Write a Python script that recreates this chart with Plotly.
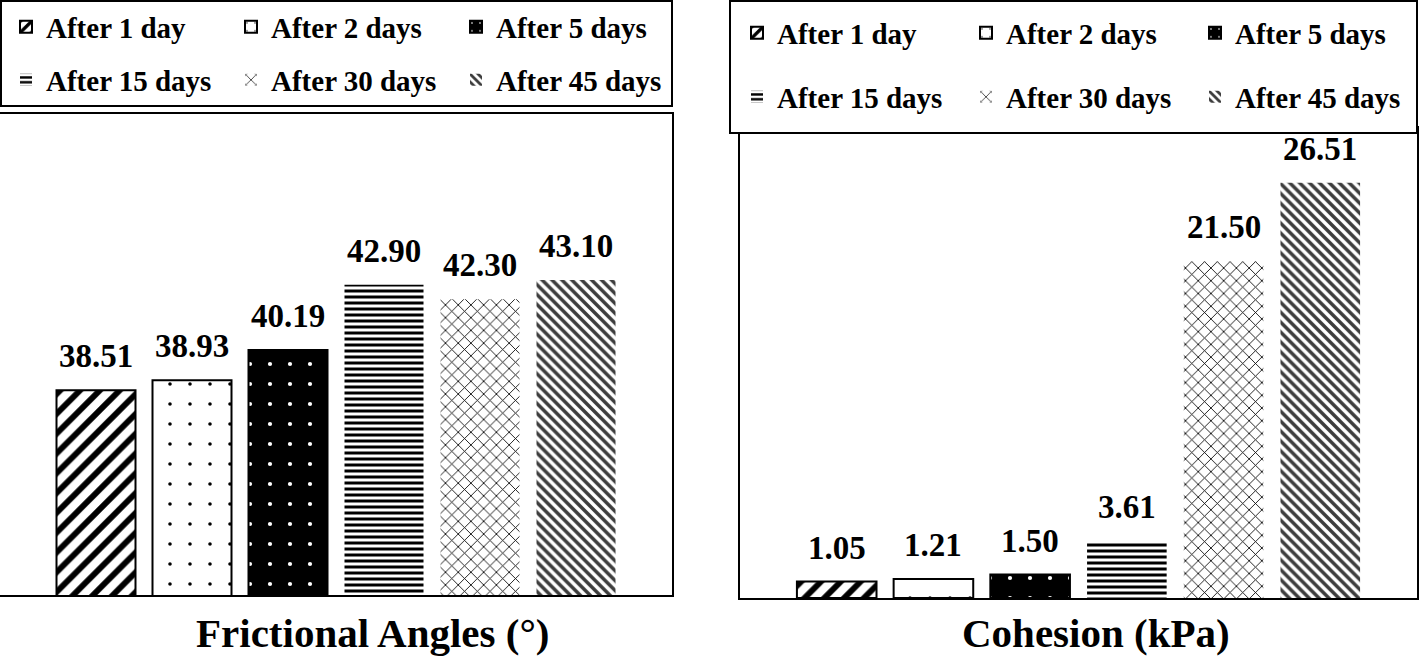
import plotly.graph_objects as go

# ---- data ----
series = ["After 1 day", "After 2 days", "After 5 days",
          "After 15 days", "After 30 days", "After 45 days"]
friction = [38.51, 38.93, 40.19, 42.90, 42.30, 43.10]
cohesion = [1.05, 1.21, 1.50, 3.61, 21.50, 26.51]
panel_titles = ["Frictional Angles (°)", "Cohesion (kPa)"]

W, H = 1420, 656
FONT = "Liberation Serif"


def px(x):
    return x / W


def py(y):
    return 1 - y / H


styles = [
    dict(color="white",
         pattern=dict(shape="/", fgcolor="black", bgcolor="white", size=14, solidity=0.42, fgopacity=1),
         line=dict(color="black", width=2)),
    dict(color="white",
         pattern=dict(shape=".", fgcolor="black", bgcolor="white", size=20, solidity=0.025, fgopacity=1),
         line=dict(color="black", width=2)),
    dict(color="black",
         pattern=dict(shape=".", fgcolor="white", bgcolor="black", size=20, solidity=0.035, fgopacity=1),
         line=dict(color="black", width=2)),
    dict(color="white",
         pattern=dict(shape="-", fgcolor="black", bgcolor="white", size=6, solidity=0.5, fgopacity=1),
         line=dict(color="black", width=0)),
    dict(color="white",
         pattern=dict(shape="x", fgcolor="black", bgcolor="white", size=9, solidity=0.18, fgopacity=1),
         line=dict(color="black", width=0)),
    dict(color="white",
         pattern=dict(shape="\\", fgcolor="#3c3c3c", bgcolor="white", size=7, solidity=0.5, fgopacity=1),
         line=dict(color="black", width=0)),
]

fig = go.Figure()

panels = [
    dict(values=friction, xa="x", ya="y", legends=("legend", "legend2"), lastw=176),
    dict(values=cohesion, xa="x2", ya="y2", legends=("legend3", "legend4"), lastw=168),
]

annotations = []
for p in panels:
    for i, (name, val) in enumerate(zip(series, p["values"])):
        extra = {}
        if i in (2, 5):
            extra["legendwidth"] = p["lastw"]
        fig.add_trace(go.Bar(
            x=[name], y=[val], name=name,
            marker=styles[i], opacity=1,
            xaxis=p["xa"], yaxis=p["ya"],
            legend=p["legends"][0] if i < 3 else p["legends"][1],
            hoverinfo="skip", **extra,
        ))
        annotations.append(dict(
            xref=p["xa"], yref=p["ya"], x=name, y=val,
            text=f"{val:.2f}", showarrow=False,
            yanchor="bottom", yshift=14,
            font=dict(family=FONT, size=33, color="black", weight="bold"),
        ))

title_pos = [(372, 633), (1096, 633)]
for t, (tx, ty) in zip(panel_titles, title_pos):
    annotations.append(dict(
        xref="paper", yref="paper", x=px(tx), y=py(ty),
        xanchor="center", yanchor="middle", text=t, showarrow=False,
        font=dict(family=FONT, size=41, color="black", weight="bold"),
    ))

axis_common = dict(showline=True, mirror=True, linecolor="black", linewidth=2,
                   showgrid=False, zeroline=False, showticklabels=False, ticks="")

legend_common = dict(orientation="h", bgcolor="rgba(0,0,0,0)", borderwidth=0,
                     font=dict(family=FONT, size=29, color="black", weight="bold"),
                     xanchor="left", yanchor="middle", entrywidthmode="pixels",
                     itemclick=False, itemdoubleclick=False, traceorder="normal")

fig.update_layout(
    width=W, height=H,
    margin=dict(l=0, r=0, t=0, b=0, autoexpand=False),
    paper_bgcolor="white", plot_bgcolor="white",
    barmode="overlay", bargap=0.177,
    showlegend=True,
    font=dict(family=FONT, color="black"),
    xaxis=dict(domain=[px(0), px(672)], range=[-1, 6], type="category",
               categoryorder="array", categoryarray=series, **axis_common),
    yaxis=dict(domain=[py(595), py(114)], range=[30, 50], **axis_common),
    xaxis2=dict(domain=[px(740), px(1417)], range=[-1, 6], type="category",
                categoryorder="array", categoryarray=series, anchor="y2", **axis_common),
    yaxis2=dict(domain=[py(598), py(128)], range=[0, 30], anchor="x2", **axis_common),
    legend=dict(x=px(6), y=py(27), entrywidth=180, **legend_common),
    legend2=dict(x=px(6), y=py(80), entrywidth=180, **legend_common),
    legend3=dict(x=px(737), y=py(33), entrywidth=184, **legend_common),
    legend4=dict(x=px(737), y=py(97), entrywidth=184, **legend_common),
    shapes=[
        dict(type="rect", xref="paper", yref="paper",
             x0=px(1), x1=px(672), y0=py(1), y1=py(106),
             line=dict(color="black", width=2), fillcolor="white", layer="above"),
        dict(type="rect", xref="paper", yref="paper",
             x0=px(730), x1=px(1417), y0=py(1), y1=py(133),
             line=dict(color="black", width=2), fillcolor="white", layer="above"),
    ],
    annotations=annotations,
)

fig.write_html(
    "out.html",
    config={"displayModeBar": False},
    post_script=("document.body.style.margin='0';"
                 "document.body.style.overflow='hidden';"
                 "document.documentElement.style.overflow='hidden';"),
)
